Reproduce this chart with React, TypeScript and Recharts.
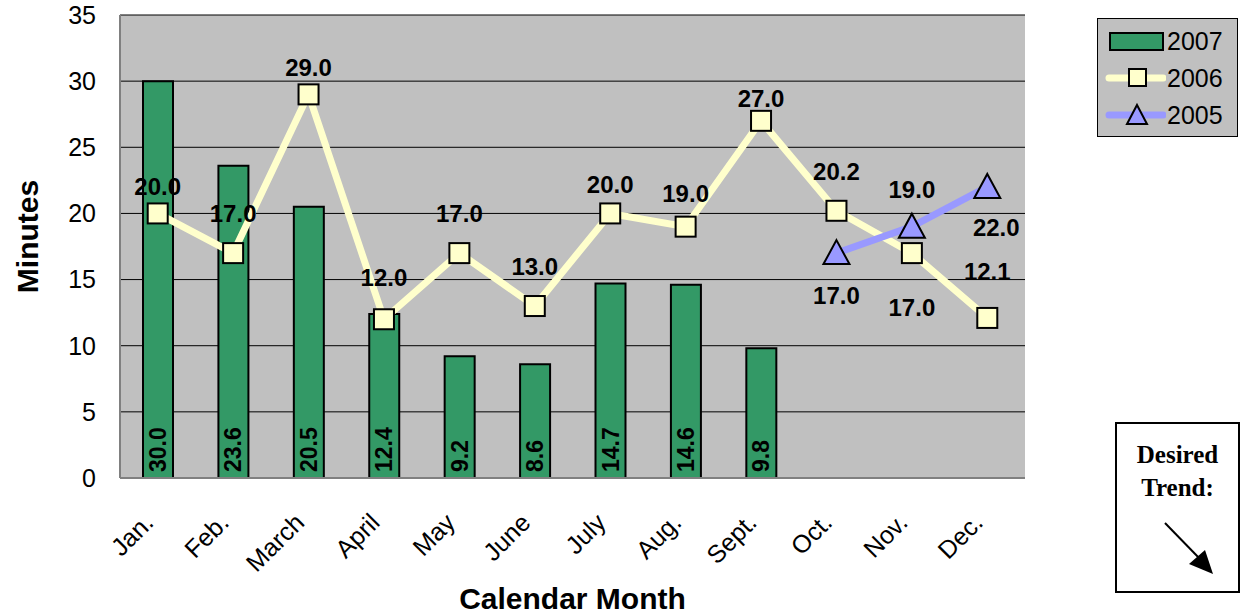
import React from 'react';
import { ComposedChart, Bar, Line, XAxis, YAxis, CartesianGrid, LabelList } from 'recharts';

const months = ['Jan.', 'Feb.', 'March', 'April', 'May', 'June', 'July', 'Aug.', 'Sept.', 'Oct.', 'Nov.', 'Dec.'];
const values2007: (number | null)[] = [30.0, 23.6, 20.5, 12.4, 9.2, 8.6, 14.7, 14.6, 9.8, null, null, null];
const values2006: (number | null)[] = [20.0, 17.0, 29.0, 12.0, 17.0, 13.0, 20.0, 19.0, 27.0, 20.2, 17.0, 12.1];
const values2005: (number | null)[] = [null, null, null, null, null, null, null, null, null, 17.0, 19.0, 22.0];
const yTicks = [0, 5, 10, 15, 20, 25, 30, 35];

const data = months.map((m, i) => ({ month: m, y2007: values2007[i], y2006: values2006[i], y2005: values2005[i] }));

// label placement offsets (style only)
const dy2006 = [-27, -40, -27, -42, -40, -40, -29, -33, -22, -39, 54, -46];
const dy2005 = [0, 0, 0, 0, 0, 0, 0, 0, 0, 42, -37, 41];
const dx2005 = [0, 0, 0, 0, 0, 0, 0, 0, 0, 0, 0, 9];

const FONT = 'Liberation Sans, Arial, sans-serif';
const C2007 = '#339966';
const C2006 = '#FFFFCC';
const C2005 = '#9999FF';

const SquareDot = (props: any) => {
  const { cx, cy, index } = props;
  if (cx == null || cy == null || props.value == null) return <g key={`s${index}`} />;
  return <rect key={`s${index}`} x={cx - 10} y={cy - 10} width={20} height={20} fill={C2006} stroke="#000" strokeWidth={2} />;
};

const TriDot = (props: any) => {
  const { cx, cy, index } = props;
  if (cx == null || cy == null || props.value == null) return <g key={`t${index}`} />;
  return (
    <polygon key={`t${index}`} points={`${cx},${cy - 13} ${cx + 13},${cy + 11} ${cx - 13},${cy + 11}`} fill={C2005} stroke="#000" strokeWidth={2} />
  );
};

const makeLineLabel = (dys: number[], dxs?: number[]) => (props: any) => {
  const { x, y, value, index } = props;
  if (value == null || x == null || y == null) return null;
  return (
    <text x={x + (dxs ? dxs[index] : 0)} y={y + dys[index]} textAnchor="middle" dominantBaseline="central" fontFamily={FONT} fontWeight="bold" fontSize={24} fill="#000">
      {Number(value).toFixed(1)}
    </text>
  );
};

const BarLabel = (props: any) => {
  const { x, y, width, height, value } = props;
  if (value == null) return null;
  const cx = x + width / 2;
  const by = y + height - 6;
  return (
    <text x={cx} y={by} transform={`rotate(-90, ${cx}, ${by})`} textAnchor="start" dominantBaseline="central" fontFamily={FONT} fontWeight="bold" fontSize={23} fill="#000">
      {Number(value).toFixed(1)}
    </text>
  );
};

const XTick = (props: any) => {
  const { x, y, payload } = props;
  return (
    <g transform={`translate(${x - 9}, ${y + 32}) rotate(-45)`}>
      <text x={0} y={0} dy="0.35em" textAnchor="end" fontFamily={FONT} fontSize={25} fill="#000">
        {payload.value}
      </text>
    </g>
  );
};

const legendItems = [
  { name: '2007', kind: 'bar', color: C2007 },
  { name: '2006', kind: 'square', color: C2006 },
  { name: '2005', kind: 'tri', color: C2005 },
];

const LegendBox = () => (
  <div style={{ position: 'absolute', left: 1097, top: 18, width: 139, height: 117, background: '#C0C0C0', border: '1px solid #000' }}>
    {legendItems.map((it, i) => (
      <div key={it.name} style={{ position: 'absolute', left: 0, top: 7 + i * 37, height: 30, display: 'flex', alignItems: 'center' }}>
        <svg width={66} height={30} style={{ marginLeft: 2 }}>
          {it.kind === 'bar' ? (
            <rect x={10} y={7} width={53} height={17} fill={it.color} stroke="#000" strokeWidth={2} />
          ) : (
            <>
              <line x1={9} y1={15} x2={63} y2={15} stroke={it.color} strokeWidth={7} strokeLinecap="round" />
              {it.kind === 'square' ? (
                <rect x={29} y={6} width={17} height={17} fill={it.color} stroke="#000" strokeWidth={2} />
              ) : (
                <polygon points="37,5 47,24 27,24" fill={it.color} stroke="#000" strokeWidth={2} />
              )}
            </>
          )}
        </svg>
        <span style={{ fontFamily: FONT, fontSize: 25, color: '#000', marginLeft: 1 }}>{it.name}</span>
      </div>
    ))}
  </div>
);

const YLabel = (props: any) => {
  const { viewBox } = props;
  const x = viewBox.x + 27;
  const y = viewBox.y + viewBox.height / 2 - 10;
  return (
    <text x={x} y={y} transform={`rotate(-90, ${x}, ${y})`} textAnchor="middle" dominantBaseline="central" fontFamily={FONT} fontWeight="bold" fontSize={30} fill="#000">
      Minutes
    </text>
  );
};

export default function App() {
  return (
    <div style={{ position: 'absolute', left: 0, top: 0, width: 1240, height: 615, background: '#fff' }}>
      <ComposedChart width={1240} height={615} data={data} margin={{ top: 15, right: 215, bottom: 0, left: 0 }}>
        <CartesianGrid vertical={false} horizontal={true} stroke="#000" strokeWidth={1} fill="#C0C0C0" fillOpacity={1} />
        <XAxis
          dataKey="month"
          height={137}
          tickLine={false}
          axisLine={{ stroke: '#808080', strokeWidth: 2 }}
          tick={<XTick />}
          interval={0}
          label={{ value: 'Calendar Month', position: 'insideBottom', offset: 6, fontFamily: FONT, fontWeight: 'bold', fontSize: 30, fill: '#000' }}
        />
        <XAxis xAxisId="top" dataKey="month" orientation="top" height={0} tick={false} tickLine={false} axisLine={{ stroke: '#808080', strokeWidth: 2 }} />
        <YAxis
          domain={[0, 35]}
          ticks={yTicks}
          width={120}
          tickLine={false}
          tickMargin={18}
          axisLine={{ stroke: '#808080', strokeWidth: 2 }}
          tick={{ fontFamily: FONT, fontSize: 25, fill: '#000' }}
          interval={0}
          label={<YLabel />}
        />
        <YAxis yAxisId="r" orientation="right" domain={[0, 35]} width={0} tick={false} tickLine={false} axisLine={{ stroke: '#808080', strokeWidth: 2 }} />
        <Bar dataKey="y2007" name="2007" fill={C2007} stroke="#000" strokeWidth={2} barSize={30} isAnimationActive={false}>
          <LabelList dataKey="y2007" content={<BarLabel />} />
        </Bar>
        <Line dataKey="y2006" name="2006" stroke={C2006} strokeWidth={7} dot={SquareDot} activeDot={false} isAnimationActive={false}>
          <LabelList dataKey="y2006" content={makeLineLabel(dy2006)} />
        </Line>
        <Line dataKey="y2005" name="2005" stroke={C2005} strokeWidth={7} dot={TriDot} activeDot={false} connectNulls={false} isAnimationActive={false}>
          <LabelList dataKey="y2005" content={makeLineLabel(dy2005, dx2005)} />
        </Line>
      </ComposedChart>
      <LegendBox />
      <div style={{ position: 'absolute', left: 1115, top: 422, width: 121, height: 167, border: '2px solid #000', background: '#fff' }}>
        <div style={{ fontFamily: 'Liberation Serif, Times New Roman, serif', fontWeight: 'bold', fontSize: 25, textAlign: 'center', marginTop: 14, lineHeight: '33px', color: '#000' }}>
          Desired
          <br />
          Trend:
        </div>
        <svg width={121} height={80} style={{ position: 'absolute', left: 0, top: 88 }}>
          <line x1={48} y1={11} x2={84} y2={48} stroke="#000" strokeWidth={2} />
          <polygon points="96,62 72,52 88,38" fill="#000" />
        </svg>
      </div>
    </div>
  );
}
